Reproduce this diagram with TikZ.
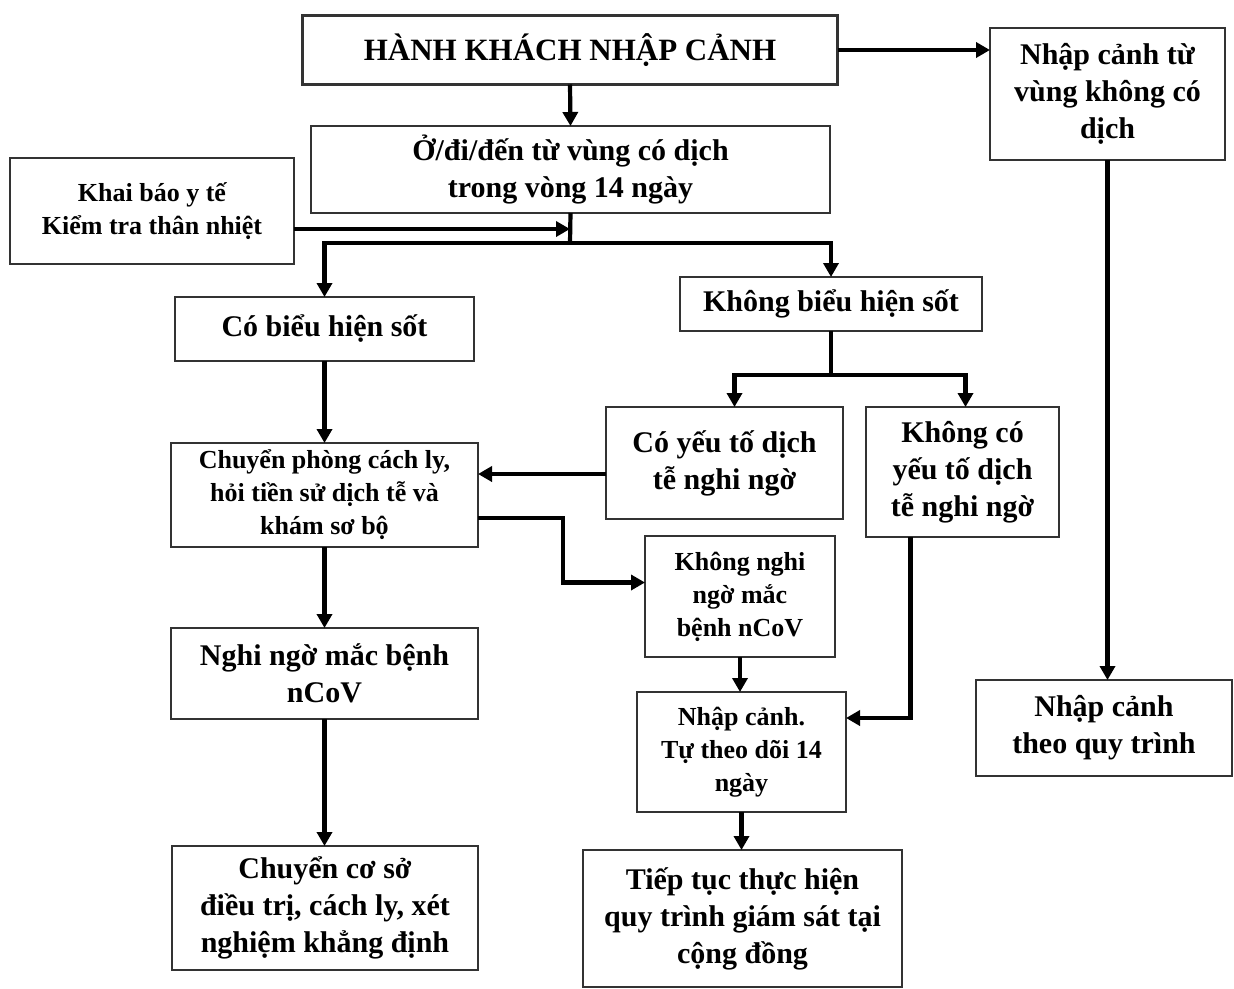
\documentclass[tikz,border=0pt]{standalone}
\usepackage{fontspec}
\setmainfont{Liberation Serif}
\usetikzlibrary{arrows.meta}
\tikzset{ % common looks for the flow chart
	box/.style={draw=black!80, line width=2.4pt, rectangle, inner sep=0pt, outer sep=0pt, align=center, font=\fontsize{30}{37}\selectfont\bfseries}, % ordinary boxes
	smallbox/.style={box, font=\fontsize{26}{33}\selectfont\bfseries}, % boxes with smaller text
	conn/.style={line width=4.2pt, black}, % plain connector
	connarr/.style={conn, -{Triangle[length=14pt,width=15pt]}} % connector with arrow tip
}

\begin{document}
\begin{tikzpicture}[x=1pt,y=-1pt]
			\useasboundingbox (0,0) rectangle (1234,988);
			% Top boxes
			\node[box, minimum width=535, minimum height=69, font=\fontsize{31}{37}\selectfont\bfseries] (hk) at (570,50) {HÀNH KHÁCH NHẬP CẢNH};
			\node[box, minimum width=519, minimum height=87] (odi) at (570.5,169.5) {Ở/đi/đến từ vùng có dịch\\trong vòng 14 ngày};
			\node[smallbox, minimum width=284, minimum height=106] (khai) at (152,211) {Khai báo y tế\\Kiểm tra thân nhiệt};
			\node[box, minimum width=235, minimum height=132] (nhapvung) at (1107.5,94) {Nhập cảnh từ\\vùng không có\\dịch};
			% Fever or not
			\node[box, minimum width=299, minimum height=64] (cobieu) at (324.5,329) {Có biểu hiện sốt};
			\node[box, minimum width=302, minimum height=54] (khongbieu) at (831,304) {Không biểu hiện sốt};
			\node[box, minimum width=237, minimum height=112] (coyeuto) at (724.5,463) {Có yếu tố dịch\\tễ nghi ngờ};
			\node[box, minimum width=193, minimum height=130] (khongco) at (962.5,472) {Không có\\yếu tố dịch\\tễ nghi ngờ};
			% Lower boxes
			\node[smallbox, minimum width=307, minimum height=104] (chuyen) at (324.5,495) {Chuyển phòng cách ly,\\hỏi tiền sử dịch tễ và\\khám sơ bộ};
			\node[smallbox, minimum width=190, minimum height=121] (khongnghi) at (740,596.5) {Không nghi\\ngờ mắc\\bệnh nCoV};
			\node[box, minimum width=307, minimum height=91] (nghingo) at (324.5,673.5) {Nghi ngờ mắc bệnh\\nCoV};
			\node[smallbox, minimum width=209, minimum height=120] (nhapcanh) at (741.5,752) {Nhập cảnh.\\Tự theo dõi 14\\ngày};
			\node[box, minimum width=306, minimum height=124] (chuyenco) at (325,908) {Chuyển cơ sở\\điều trị, cách ly, xét\\nghiệm khẳng định};
			\node[box, minimum width=319, minimum height=137] (tieptuc) at (742.5,918.5) {Tiếp tục thực hiện\\quy trình giám sát tại\\cộng đồng};
			\node[box, minimum width=256, minimum height=96] (quytrinh) at (1104,728) {Nhập cảnh\\theo quy trình};
			% Split points
			\coordinate (split) at (570,243);
			\coordinate (split2) at (831,375);
			% Connectors
			\draw[connarr] (hk.east) -- (nhapvung.west |- hk.east);
			\draw[connarr] (hk.south) -- (odi.north);
			\draw[conn] (odi.south) -- (split);
			\draw[connarr] ([yshift=-18pt]khai.east) -- ([yshift=-18pt]khai.east -| split);
			\draw[connarr] (split) -| (cobieu.north);
			\draw[connarr] (split) -| (khongbieu.north);
			\draw[conn] (khongbieu.south) -- (split2);
			\draw[connarr] (split2) -| ([xshift=10pt]coyeuto.north);
			\draw[connarr] (split2) -| ([xshift=3pt]khongco.north);
			\draw[connarr] ([yshift=-11pt]coyeuto.west) -- ([yshift=-11pt]coyeuto.west -| chuyen.east);
			\draw[connarr] ([yshift=-23pt]chuyen.east) -- ++(85,0) |- ([yshift=14pt]khongnghi.west);
			\draw[connarr] (cobieu.south) -- (cobieu.south |- chuyen.north);
			\draw[connarr] (chuyen.south) -- (chuyen.south |- nghingo.north);
			\draw[connarr] (nghingo.south) -- (nghingo.south |- chuyenco.north);
			\draw[connarr] (khongnghi.south) -- (khongnghi.south |- nhapcanh.north);
			\draw[connarr] ([xshift=-52pt]khongco.south) |- ([yshift=34pt]nhapcanh.east);
			\draw[connarr] (nhapcanh.south) -- (nhapcanh.south |- tieptuc.north);
			\draw[connarr] (nhapvung.south) -- (nhapvung.south |- quytrinh.north);
		\end{tikzpicture}
\end{document}
